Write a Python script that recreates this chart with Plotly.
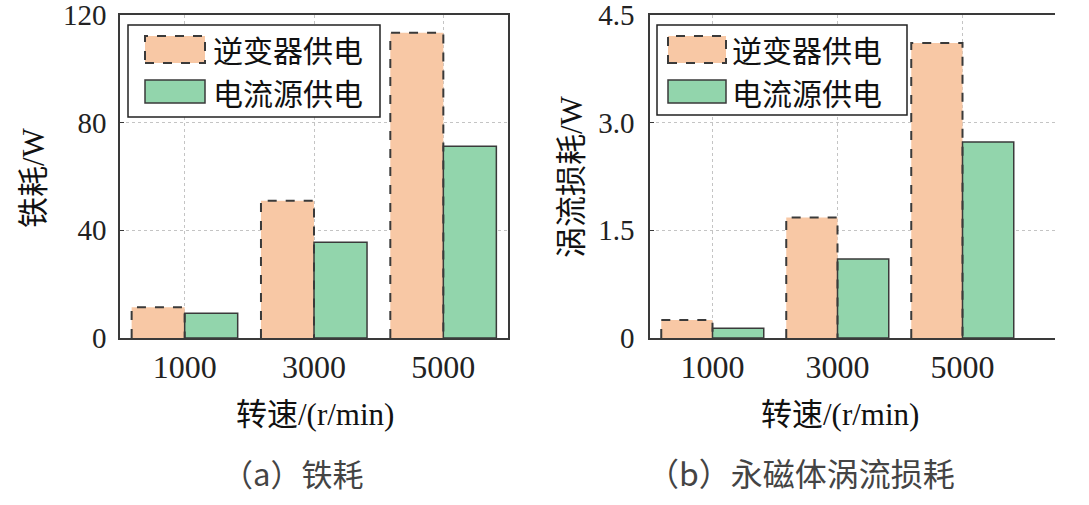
import plotly.graph_objects as go

# data
speeds = ["1000", "3000", "5000"]
iron_inverter = [11.4, 51.0, 113.4]
iron_current = [9.2, 35.6, 71.2]
eddy_inverter = [0.25, 1.68, 4.11]
eddy_current = [0.135, 1.10, 2.73]

iron_ticks = [0, 40, 80, 120]
iron_ticktext = ["0", "40", "80", "120"]
eddy_ticks = [0, 1.5, 3.0, 4.5]
eddy_ticktext = ["0", "1.5", "3.0", "4.5"]

legend_names = ["逆变器供电", "电流源供电"]

W, H = 1089, 505
BAR_W = 0.41
ORANGE = "#f8c8a5"
GREEN = "#92d5ac"
EDGE = "#3a3a3a"
SERIF = "Liberation Serif, Noto Sans CJK SC"
CJK = "Noto Sans CJK SC"


def px(x):
    return x / W


def py(y):
    return 1 - y / H


def outline(vals):
    # dashed outline for the inverter bars (bar line can't be dashed)
    xs, ys = [], []
    for i, v in enumerate(vals):
        xs += [i - BAR_W, i - BAR_W, i, i, None]
        ys += [0, v, v, 0, None]
    return xs, ys


fig = go.Figure()
idx = list(range(len(speeds)))

for k, (inv, cur) in enumerate([(iron_inverter, iron_current), (eddy_inverter, eddy_current)]):
    xa = "x" if k == 0 else "x2"
    ya = "y" if k == 0 else "y2"
    fig.add_bar(x=idx, y=inv, offset=-BAR_W, width=BAR_W, name=legend_names[0],
                marker=dict(color=ORANGE, line=dict(width=0)),
                xaxis=xa, yaxis=ya, showlegend=False)
    fig.add_bar(x=idx, y=cur, offset=0, width=BAR_W, name=legend_names[1],
                marker=dict(color=GREEN, line=dict(color=EDGE, width=1.5)),
                xaxis=xa, yaxis=ya, showlegend=False)
    ox, oy = outline(inv)
    fig.add_scatter(x=ox, y=oy, mode="lines", xaxis=xa, yaxis=ya, showlegend=False,
                    line=dict(color=EDGE, width=2, dash="dash"), hoverinfo="skip")

axis_common = dict(showline=True, linecolor=EDGE, linewidth=1.5,
                   showgrid=True, gridcolor="#c4c4c4", griddash="dot", gridwidth=1,
                   zeroline=False, ticks="inside", ticklen=4, tickcolor=EDGE,
                   ticklabeloverflow="allow", automargin=False)

fig.update_layout(
    width=W, height=H,
    margin=dict(l=0, r=0, t=0, b=0, autoexpand=False),
    paper_bgcolor="white", plot_bgcolor="white",
    barmode="overlay",
    xaxis=dict(axis_common, domain=[px(120), px(508)], range=[-0.5, 2.5], mirror=True,
               tickvals=idx, ticktext=speeds, anchor="y",
               tickfont=dict(family=SERIF, size=32, color="#222")),
    yaxis=dict(axis_common, domain=[py(338), py(15)], range=[0, 120], mirror=True,
               tickvals=iron_ticks, ticktext=iron_ticktext, anchor="x", ticklabelstandoff=6,
               tickfont=dict(family=SERIF, size=29, color="#222")),
    xaxis2=dict(axis_common, domain=[px(650), px(1055)], range=[-0.5, 2.74], mirror=True,
                tickvals=idx, ticktext=speeds, anchor="y2",
                tickfont=dict(family=SERIF, size=32, color="#222")),
    yaxis2=dict(axis_common, domain=[py(338), py(15)], range=[0, 4.5], mirror=False,
                tickvals=eddy_ticks, ticktext=eddy_ticktext, anchor="x2", ticklabelstandoff=8,
                tickfont=dict(family=SERIF, size=29, color="#222")),
)

# hand-drawn legends (wide swatches like the original)
shapes = []
annotations = []
for (bx0, bx1, by0, by1, sx0, sx1, tx) in [(128, 380, 25, 117, 145, 205, 211),
                                            (657, 907, 25, 115, 668, 726, 730)]:
    shapes.append(dict(type="rect", xref="paper", yref="paper",
                       x0=px(bx0), x1=px(bx1), y0=py(by1), y1=py(by0),
                       line=dict(color="#222", width=1.5), fillcolor="white", layer="above"))
    shapes.append(dict(type="rect", xref="paper", yref="paper",
                       x0=px(sx0), x1=px(sx1), y0=py(63), y1=py(36),
                       line=dict(color=EDGE, width=2, dash="dash"), fillcolor=ORANGE, layer="above"))
    shapes.append(dict(type="rect", xref="paper", yref="paper",
                       x0=px(sx0), x1=px(sx1), y0=py(103), y1=py(80),
                       line=dict(color=EDGE, width=1.5), fillcolor=GREEN, layer="above"))
    for name, yc in zip(legend_names, [49, 92]):
        annotations.append(dict(text=name, xref="paper", yref="paper", x=px(tx), y=py(yc),
                                xanchor="left", yanchor="middle", showarrow=False,
                                font=dict(family=CJK, size=30, color="#111")))

# axis titles and captions
annotations += [
    dict(text="铁耗/W", x=px(33), y=py(178), textangle=-90),
    dict(text="涡流损耗/W", x=px(571), y=py(177), textangle=-90),
    dict(text="转速/(r/min)", x=px(315), y=py(414)),
    dict(text="转速/(r/min)", x=px(840), y=py(414)),
]
for a in annotations[-4:]:
    a.update(xref="paper", yref="paper", showarrow=False, xanchor="center", yanchor="middle",
             font=dict(family=SERIF, size=31, color="#111"))

annotations += [
    dict(text="（a）铁耗", x=px(292), y=py(472), xref="paper", yref="paper", showarrow=False,
         xanchor="center", yanchor="middle",
         font=dict(family=CJK, size=31, color="#444")),
    dict(text="（b）永磁体涡流损耗", x=px(801), y=py(472), xref="paper", yref="paper", showarrow=False,
         xanchor="center", yanchor="middle",
         font=dict(family=CJK, size=32, color="#444")),
]

fig.update_layout(shapes=shapes, annotations=annotations)

# page body has an 8px default margin; drop it so the figure fills the window
fig.write_html("out.html", config={"displayModeBar": False},
               post_script="document.body.style.margin='0';")
